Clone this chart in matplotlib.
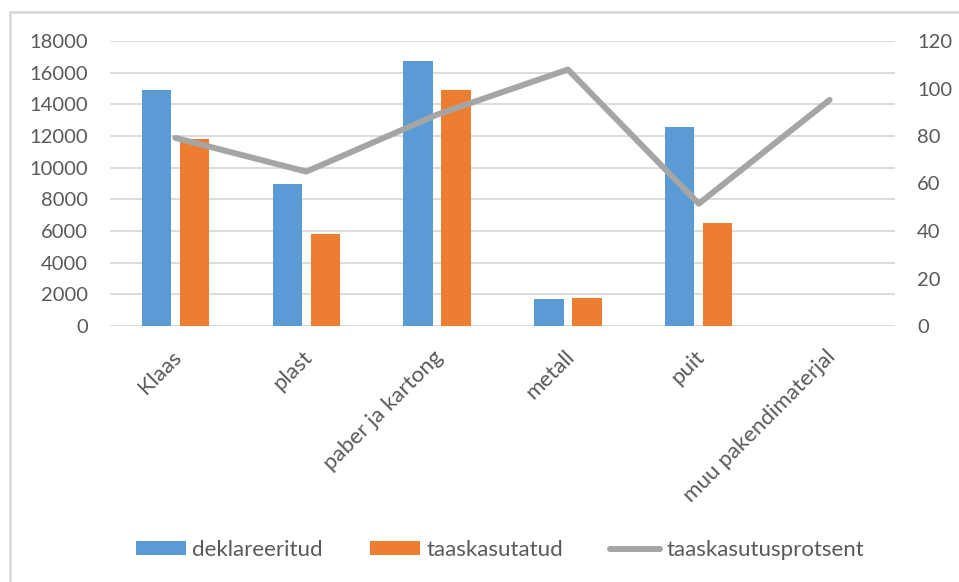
import matplotlib.pyplot as plt
from matplotlib.lines import Line2D
import matplotlib.transforms as mtransforms
import numpy as np

categories = ["Klaas", "plast", "paber ja kartong", "metall", "puit", "muu pakendimaterjal"]
deklareeritud = [14900, 8970, 16750, 1700, 12570, 0]
taaskasutatud = [11800, 5810, 14900, 1770, 6500, 0]
protsent = [79.2, 65.0, 89.0, 108.0, 51.5, 95.2]

blue = "#5B9BD5"
orange = "#ED7D31"
gray = "#A5A5A5"
txt = "#595959"

plt.rcParams['font.family'] = ['Lato', 'DejaVu Sans']

fig = plt.figure(figsize=(9.59, 5.82), dpi=100)
ax = fig.add_axes([110/959, 1-326/582, (895-110)/959, (326-41)/582])
ax2 = ax.twinx()

x = np.arange(len(categories))
w = 0.225
ax.bar(x - 0.145, deklareeritud, w, color=blue, label="deklareeritud", zorder=3)
ax.bar(x + 0.145, taaskasutatud, w, color=orange, label="taaskasutatud", zorder=3)
ax2.plot(x, protsent, color=gray, lw=4.3, label="taaskasutusprotsent", solid_capstyle='round')

ax.set_xlim(-0.5, len(categories) - 0.5)
ax.set_ylim(0, 18000)
ax.set_yticks(range(0, 18001, 2000))
ax2.set_ylim(0, 120)
ax2.set_yticks(range(0, 121, 20))

ax.grid(axis='y', color="#D9D9D9", lw=1.3, zorder=0)
ax.set_axisbelow(True)
for a in (ax, ax2):
    for s in a.spines.values():
        s.set_visible(False)
    a.tick_params(length=0, colors=txt, labelsize=14.5, pad=16)

ax.set_xticks(x)
ax.set_xticklabels(categories, rotation=45, ha='right', rotation_mode='anchor', fontsize=16)
ax.tick_params(axis='x', pad=15)
shift = mtransforms.ScaledTranslation(-0.04, 0, fig.dpi_scale_trans)
for lab in ax.get_xticklabels():
    lab.set_transform(lab.get_transform() + shift)

h1, l1 = ax.get_legend_handles_labels()
h2, l2 = ax2.get_legend_handles_labels()
fig.legend(h1 + h2, l1 + l2, loc='center', bbox_to_anchor=(500/959, 1-550/582),
           ncol=3, frameon=False, fontsize=16, labelcolor=txt,
           handlelength=2.25, handleheight=0.55, handletextpad=0.3, columnspacing=2.1)

fig.add_artist(Line2D([9.5/959, 9.5/959], [0, 1-12/582], transform=fig.transFigure, color="#D9D9D9", lw=2))
fig.add_artist(Line2D([9.5/959, 1], [1-12/582, 1-12/582], transform=fig.transFigure, color="#D9D9D9", lw=2))

fig.savefig("out.png", dpi=100)
